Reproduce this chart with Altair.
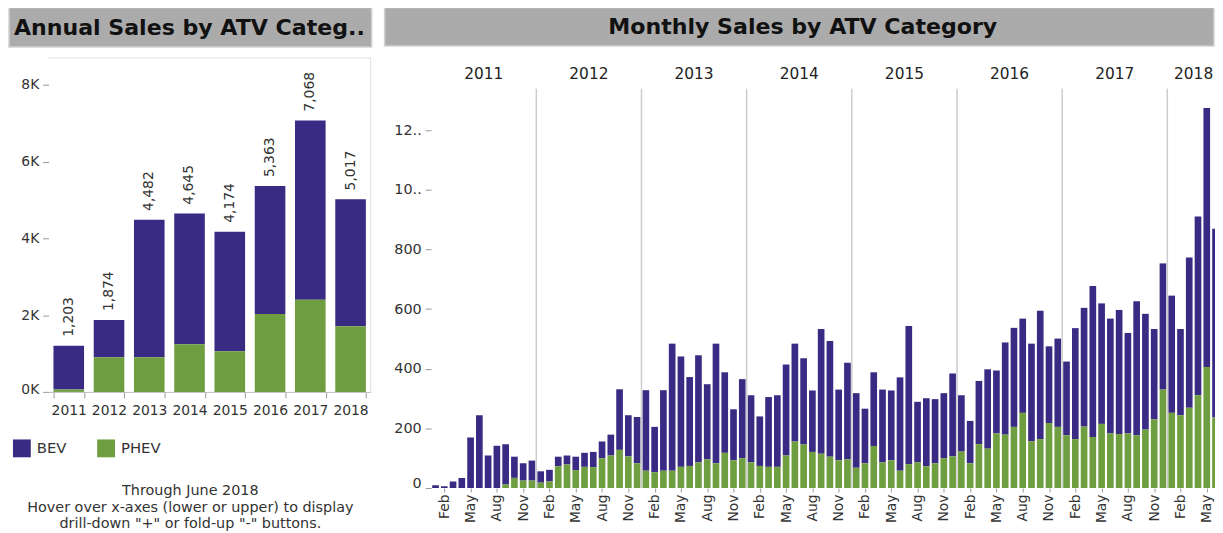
import altair as alt
import pandas as pd

# ---------------- data ----------------
YEARS = [2011, 2012, 2013, 2014, 2015, 2016, 2017, 2018]
ANNUAL_BEV = [1143, 971, 3579, 3406, 3116, 3332, 4668, 3306]
ANNUAL_PHEV = [60, 903, 903, 1239, 1058, 2031, 2400, 1711]
ANNUAL_TOTAL = [1203, 1874, 4482, 4645, 4174, 5363, 7068, 5017]

MONTH_NAMES = ["Jan", "Feb", "Mar", "Apr", "May", "Jun",
               "Jul", "Aug", "Sep", "Oct", "Nov", "Dec"]
TICK_MONTHS = ["Feb", "May", "Aug", "Nov"]

MONTHLY_BEV = [
    9, 6, 22, 34, 169, 244, 109, 142, 135, 71, 58, 67,            # 2011
    38, 39, 32, 30, 45, 47, 51, 56, 70, 203, 138, 155,            # 2012
    270, 152, 270, 426, 370, 298, 359, 252, 401, 270, 171, 265,   # 2013
    225, 166, 234, 240, 305, 328, 289, 206, 418, 388, 237, 324,   # 2014
    250, 183, 247, 244, 234, 313, 463, 203, 228, 215, 218, 278,   # 2015
    189, 142, 212, 266, 211, 309, 332, 316, 327, 430, 257, 296,   # 2016
    247, 372, 398, 506, 404, 385, 416, 337, 449, 388, 303, 423,   # 2017
    393, 289, 504, 599, 868, 633,                                 # 2018
]
MONTHLY_PHEV = [
    0, 0, 0, 0, 0, 0, 0, 0, 12, 34, 25, 25,
    18, 22, 73, 79, 60, 71, 70, 100, 109, 128, 106, 83,
    58, 53, 58, 58, 71, 74, 86, 96, 83, 118, 93, 100,
    86, 74, 71, 71, 109, 156, 146, 121, 115, 105, 93, 96,
    68, 83, 141, 86, 93, 58, 80, 86, 73, 83, 100, 106,
    122, 83, 147, 132, 183, 179, 205, 252, 157, 164, 218, 205,
    177, 164, 206, 171, 215, 183, 181, 183, 177, 196, 230, 330,
    252, 244, 269, 311, 406, 236,
]

CATS = ["BEV", "PHEV"]
COLORS = ["#392A84", "#6E9E3F"]
STACK_ORDER = {"PHEV": 0, "BEV": 1}

LEFT_TITLE = "Annual Sales by ATV Categ.."
RIGHT_TITLE = "Monthly Sales by ATV Category"
NOTES = ["Through June 2018",
         "Hover over x-axes (lower or upper) to display",
         "drill-down \"+\" or fold-up \"-\" buttons."]

FONT = "DejaVu Sans"
TXT = "#333333"
TITLE_SIZE = 22.3

# ---------------- tables ----------------
annual_rows = []
for y, b, p in zip(YEARS, ANNUAL_BEV, ANNUAL_PHEV):
    annual_rows.append({"year": y, "cat": "BEV", "value": b, "ord": STACK_ORDER["BEV"]})
    annual_rows.append({"year": y, "cat": "PHEV", "value": p, "ord": STACK_ORDER["PHEV"]})
adf = pd.DataFrame(annual_rows)
tdf = pd.DataFrame({"year": YEARS, "total": ANNUAL_TOTAL})

monthly_rows = []
month_year = []
for i, (b, p) in enumerate(zip(MONTHLY_BEV, MONTHLY_PHEV)):
    yr = YEARS[i // 12]
    month_year.append(yr)
    monthly_rows.append({"m": i, "cat": "BEV", "value": b, "ord": STACK_ORDER["BEV"]})
    monthly_rows.append({"m": i, "cat": "PHEV", "value": p, "ord": STACK_ORDER["PHEV"]})
mdf = pd.DataFrame(monthly_rows)

year_rows = []
for yr in YEARS:
    idx = [i for i, v in enumerate(month_year) if v == yr]
    year_rows.append({"year": str(yr), "start": idx[0], "center": (idx[0] + idx[-1] + 1) / 2})
ydf = pd.DataFrame(year_rows)
divdf = ydf[ydf["start"] > 0]

tick_vals = [i + 0.5 for i in range(len(MONTHLY_BEV)) if MONTH_NAMES[i % 12] in TICK_MONTHS]
month_expr = "[" + ",".join("'%s'" % m for m in MONTH_NAMES) + "][floor(datum.value) % 12]"

cscale = alt.Scale(domain=CATS, range=COLORS)

# ---------------- left panel ----------------
LW, LH = 325, 337

lbars = alt.Chart(adf).mark_bar().encode(
    x=alt.X("year:O",
            scale=alt.Scale(paddingInner=0.24, paddingOuter=0.12),
            axis=alt.Axis(title=None, labelAngle=0, tickBand="extent", tickSize=6,
                          tickColor="#999999", domainColor="#bbbbbb", labelFontSize=14,
                          labelColor=TXT, labelPadding=6, labelFont=FONT)),
    y=alt.Y("value:Q", stack="zero",
            scale=alt.Scale(domain=[0, 8700], nice=False),
            axis=alt.Axis(title=None, values=[0, 2000, 4000, 6000, 8000],
                          labelExpr="toString(datum.value / 1000) + 'K'",
                          grid=False, domain=False, tickSize=6, tickColor="#999999",
                          labelFontSize=14, labelColor=TXT, labelPadding=4,
                          labelFlush=True, labelFlushOffset=5, labelFont=FONT)),
    color=alt.Color("cat:N", scale=cscale,
                    legend=alt.Legend(title=None, orient="none", legendX=-36, legendY=385,
                                      direction="horizontal", symbolType="square",
                                      symbolSize=324, symbolStrokeWidth=0, symbolOpacity=1,
                                      labelFontSize=15, labelColor=TXT, labelFont=FONT,
                                      labelOffset=6, columnPadding=30, padding=0)),
    order=alt.Order("ord:Q"),
)

ltext = alt.Chart(tdf).mark_text(angle=270, align="left", baseline="middle", dx=9,
                                 fontSize=14, color=TXT, font=FONT).encode(
    x=alt.X("year:O", title=None),
    y=alt.Y("total:Q", title=None),
    text=alt.Text("total:Q", format=","),
)

ltitle_df = pd.DataFrame({"t": [LEFT_TITLE]})
lbanner = alt.Chart(ltitle_df).mark_rect(fill="#ababab", stroke="#d2d2d2", strokeWidth=1.5).encode(
    x=alt.value(-40), x2=alt.value(326), y=alt.value(-51), y2=alt.value(-11))
lbanner_txt = alt.Chart(ltitle_df).mark_text(font=FONT, fontWeight="bold", fontSize=TITLE_SIZE,
                                             color="#111111", baseline="middle").encode(
    x=alt.value(142), y=alt.value(-30), text="t:N")

lborder_top = alt.Chart(ltitle_df).mark_rule(color="#dddddd", strokeWidth=1).encode(
    x=alt.value(0), x2=alt.value(LW), y=alt.value(0))
lborder_right = alt.Chart(ltitle_df).mark_rule(color="#dddddd", strokeWidth=1).encode(
    x=alt.value(LW), y=alt.value(0), y2=alt.value(LH))

lnotes = alt.Chart(ltitle_df).mark_text(font=FONT, fontSize=14.5, color=TXT, align="center",
                                        baseline="top", lineHeight=16.7).encode(
    x=alt.value(143), y=alt.value(430), text=alt.value(NOTES))

left = alt.layer(lbanner, lbanner_txt, lborder_top, lborder_right, lbars, ltext, lnotes).properties(
    width=LW, height=LH)

# ---------------- right panel ----------------
# plot area top aligned with the left panel's; the data region starts 31 px lower
RW, RH = 791, 434
PX_PER_UNIT = 0.301
xscale = alt.Scale(domain=[0, RW / 8.844], nice=False, zero=False)

rbars = alt.Chart(mdf).transform_stack(
    stack="value", groupby=["m"], as_=["y0", "y1"],
    sort=[alt.SortField("ord", order="ascending")],
).transform_calculate(
    xs="datum.m + 0.12", xe="datum.m + 0.88"
).mark_bar(clip=True).encode(
    x=alt.X("xs:Q", scale=xscale,
            axis=alt.Axis(title=None, values=tick_vals, tickCount=len(tick_vals) + 5,
                          labelExpr=month_expr, labelAngle=270,
                          labelOverlap=False, grid=False, domain=False, tickSize=4,
                          tickColor="#999999", labelFontSize=14, labelColor=TXT,
                          labelPadding=2, labelFont=FONT)),
    x2="xe:Q",
    y=alt.Y("y0:Q", scale=alt.Scale(domain=[0, RH / PX_PER_UNIT], nice=False),
            axis=alt.Axis(title=None, values=[0, 200, 400, 600, 800, 1000, 1200],
                          tickCount=10,
                          labelExpr="datum.value >= 1000 ? substring(toString(datum.value), 0, 2) + '..' : toString(datum.value)",
                          grid=False, domain=False, tickSize=6, tickColor="#999999",
                          labelFontSize=14.5, labelColor=TXT, labelPadding=4,
                          labelFlush=True, labelFlushOffset=2, labelFont=FONT)),
    y2="y1:Q",
    color=alt.Color("cat:N", scale=cscale, legend=None),
)

rdividers = alt.Chart(divdf).mark_rule(color="#cccccc", strokeWidth=1.5).encode(
    x=alt.X("start:Q", scale=xscale, title=None), y=alt.value(31), y2=alt.value(RH))

ryears = alt.Chart(ydf).mark_text(font=FONT, fontSize=15.5, color="#222222",
                                  baseline="middle").encode(
    x=alt.X("center:Q", scale=xscale, title=None), y=alt.value(16), text="year:N")

rtitle_df = pd.DataFrame({"t": [RIGHT_TITLE]})
rbanner = alt.Chart(rtitle_df).mark_rect(fill="#ababab", stroke="#d2d2d2", strokeWidth=1.5).encode(
    x=alt.value(-47), x2=alt.value(790), y=alt.value(-51), y2=alt.value(-12))
rbanner_txt = alt.Chart(rtitle_df).mark_text(font=FONT, fontWeight="bold", fontSize=TITLE_SIZE,
                                             color="#111111", baseline="middle").encode(
    x=alt.value(375), y=alt.value(-31), text="t:N")

right = alt.layer(rbanner, rbanner_txt, rbars, rdividers, ryears).properties(width=RW, height=RH)

chart = alt.hconcat(left, right, spacing=11).resolve_scale(color="independent").properties(
    padding={"top": -4, "left": 0, "right": 0, "bottom": 0}
).configure(font=FONT, view=alt.ViewConfig(strokeWidth=0))

chart.save("out.html", embed_options={"renderer": "svg", "actions": False})
